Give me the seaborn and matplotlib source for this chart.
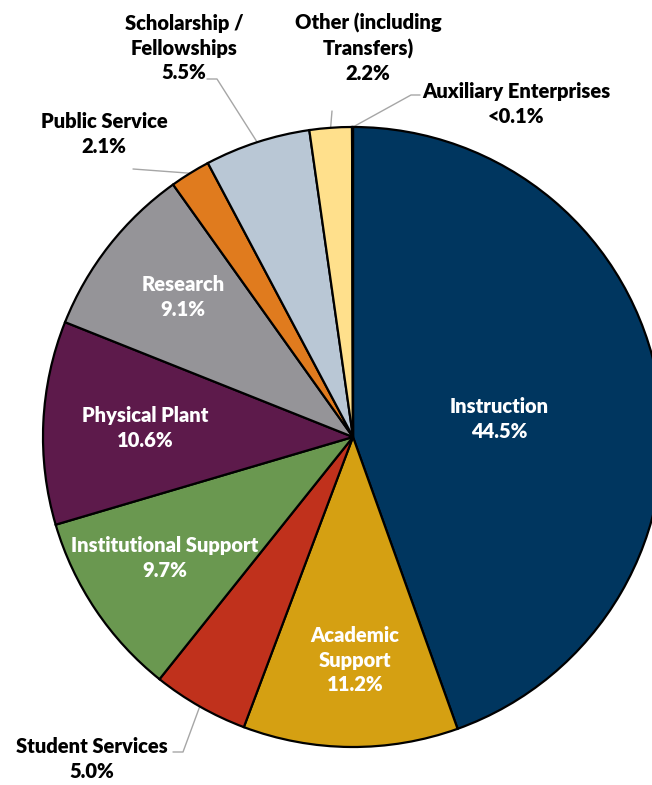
import numpy as np
import matplotlib
matplotlib.use("Agg")
import matplotlib.pyplot as plt
import seaborn as sns

# ---- data ----
categories = ["Instruction", "Academic\nSupport", "Student Services", "Institutional Support",
              "Physical Plant", "Research", "Public Service", "Scholarship /\nFellowships",
              "Other (including\nTransfers)", "Auxiliary Enterprises"]
values = [44.5, 11.2, 5.0, 9.7, 10.6, 9.1, 2.1, 5.5, 2.2, 0.05]
pct_labels = ["44.5%", "11.2%", "5.0%", "9.7%", "10.6%", "9.1%", "2.1%", "5.5%", "2.2%", "<0.1%"]
colors = ["#00365F", "#D5A012", "#C0311C", "#6A9850", "#5D1A4B", "#959498",
          "#E07B1E", "#B9C7D5", "#FFE08C", "#FFFFFF"]

sns.set_theme(style="white")
plt.rcParams['font.family'] = ['Lato', 'DejaVu Sans']

W, H = 652, 785
fig = plt.figure(figsize=(W / 100, H / 100), dpi=100)
ax = fig.add_axes([0, 0, 1, 1])

cx, cy_top, R = 353, 437, 310
cy = H - cy_top

wedges, _ = ax.pie(values, colors=colors, startangle=90, counterclock=False,
                   center=(cx, cy), radius=R, frame=True,
                   wedgeprops=dict(edgecolor="black", linewidth=1.6))
ax.set_xlim(0, W)
ax.set_ylim(0, H)
ax.set_aspect('equal')
ax.axis('off')

def Y(y):
    return H - y

fs = 14.5
ls = 1.36
# inside labels (white)
inside = {0: (499, 419), 1: (355, 660), 3: (165, 558), 4: (145, 428), 5: (183, 297)}
for i, (x, y) in inside.items():
    ax.text(x, Y(y), categories[i] + "\n" + pct_labels[i], color="white", fontsize=fs,
            fontweight="heavy", ha="center", va="center", linespacing=ls)

# outside labels (black)
outside = {2: (92, 759), 6: (104, 134), 7: (184, 48), 8: (368, 48), 9: (516, 104)}
for i, (x, y) in outside.items():
    ax.text(x, Y(y), categories[i] + "\n" + pct_labels[i], color="black", fontsize=fs,
            fontweight="heavy", ha="center", va="center", linespacing=ls)

# leader lines: from label anchor to wedge mid-angle on the rim
def rim_point(i):
    w = wedges[i]
    ang = np.deg2rad((w.theta1 + w.theta2) / 2)
    return cx + R * np.cos(ang), cy + R * np.sin(ang)

leaders = {2: [(173, 752), (183, 752)], 6: [(133, 169)], 7: [(207, 79), (217, 79)],
           8: [(332, 111)], 9: [(420, 95), (411, 95)]}
for i, pts in leaders.items():
    xs = [p[0] for p in pts]
    ys = [Y(p[1]) for p in pts]
    rx, ry = rim_point(i)
    if i == 9:
        rx, ry = cx, cy + R
    xs.append(rx)
    ys.append(ry)
    ax.plot(xs, ys, color="#A6A6A6", linewidth=1.0, zorder=0)

fig.savefig("out.png", dpi=100)
